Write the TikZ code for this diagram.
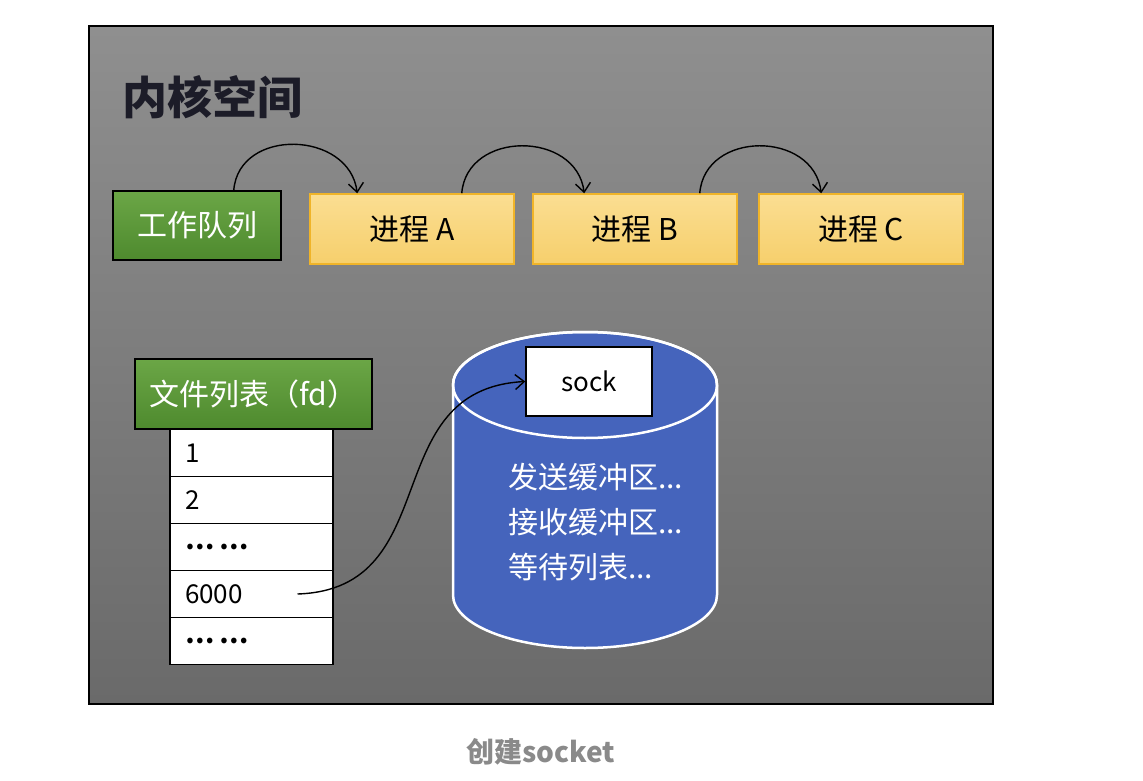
\documentclass[tikz,border=0pt]{standalone}
\usepackage{fontspec}
\newfontfamily\cjk{Noto Sans CJK SC}
\usetikzlibrary{arrows.meta}
\definecolor{panelTop}{HTML}{8F8F8F}
\definecolor{panelBot}{HTML}{6A6A6A}
\definecolor{greenTop}{HTML}{6BA646}
\definecolor{greenBot}{HTML}{4E8A2E}
\definecolor{procTop}{HTML}{FBDE92}
\definecolor{procBot}{HTML}{F6CF6C}
\definecolor{procEdge}{HTML}{F0B429}
\definecolor{cylBlue}{HTML}{4564BC}
\definecolor{titleInk}{HTML}{1C1C28}
\definecolor{captionInk}{HTML}{8A8A8A}
\newcommand{\rowdots}{{\bfseries …\kern5pt…}}
\begin{document}
\begin{tikzpicture}[x=1pt, y=-1pt,
    txt/.style={font=\cjk\fontsize{30pt}{36pt}\selectfont},
    small/.style={font=\cjk\fontsize{26pt}{30pt}\selectfont},
    greenbox/.style={txt, draw=black, line width=1.5pt, top color=greenTop, bottom color=greenBot, text=white, inner sep=0pt},
    procbox/.style={txt, draw=procEdge, line width=1.5pt, top color=procTop, bottom color=procBot, minimum width=204pt, minimum height=70pt, inner sep=0pt},
    fdrow/.style={small, draw=black, line width=1.5pt, fill=white, text width=133pt, inner xsep=15pt, inner ysep=0pt, minimum height=47pt, align=left},
    hop/.style={line width=1.4pt, -{Straight Barb[length=9pt, width=15pt, line width=1.4pt]}},
]
\useasboundingbox (0,0) rectangle (1143,781);
\fill[white] (0,0) rectangle (1143,781);

% kernel space panel
\shadedraw[top color=panelTop, bottom color=panelBot, draw=black, line width=2pt] (89,26) rectangle (993,704);
\node[font=\cjk\bfseries\fontsize{45pt}{50pt}\selectfont, text=titleInk, anchor=west, inner sep=0pt] (title) at (122,97) {内核空间};

% work queue and processes
\node[greenbox, minimum width=168pt, minimum height=69pt] (queue) at (197,225.5) {工作队列};
\foreach \n/\x in {A/412, B/635, C/861}
  \node[procbox] (p\n) at (\x,229) {进程 \n};

\draw[hop] ([xshift=-48pt]queue.north east) .. controls +(5,-63) and +(-8,-63) .. ([xshift=48pt]pA.north west);
\draw[hop] ([xshift=-53pt]pA.north east) .. controls +(5,-63) and +(-8,-63) .. ([xshift=52pt]pB.north west);
\draw[hop] ([xshift=-38pt]pB.north east) .. controls +(5,-63) and +(-8,-63) .. ([xshift=63pt]pC.north west);

% file list
\node[greenbox, minimum width=237pt, minimum height=70pt] (fdhead) at (253.5,394) {文件列表（fd）};
\foreach \i/\t in {1/1, 2/2, 3/\rowdots, 4/6000, 5/\rowdots}
  \node[fdrow] (r\i) at (251.5,{406+47*\i}) {\t};

% socket cylinder
\path[fill=cylBlue, draw=white, line width=2.5pt] (453,385) -- (453,595)
  arc[start angle=180, end angle=0, x radius=132, y radius=53] -- (717,385)
  arc[start angle=0, end angle=-180, x radius=132, y radius=53] -- cycle;
\draw[white, line width=2.5pt] (585,385) ellipse[x radius=132, y radius=53];
\node[small, draw=black, line width=1.5pt, fill=white, minimum width=126pt, minimum height=69pt, inner sep=0pt] (sock) at (589,381.5) {sock};
\node[font=\cjk\fontsize{30pt}{45pt}\selectfont, text=white, align=left, anchor=west, inner sep=0pt] (bufs) at (508,522) {发送缓冲区...\\接收缓冲区...\\等待列表...};

\draw[hop] ([xshift=46pt]r4.center) .. controls +(150,-5) and +(-150,8) .. (sock.west);

\node[font=\cjk\bfseries\fontsize{28pt}{32pt}\selectfont, text=captionInk] (caption) at (541,752) {创建socket};
\end{tikzpicture}
\end{document}
